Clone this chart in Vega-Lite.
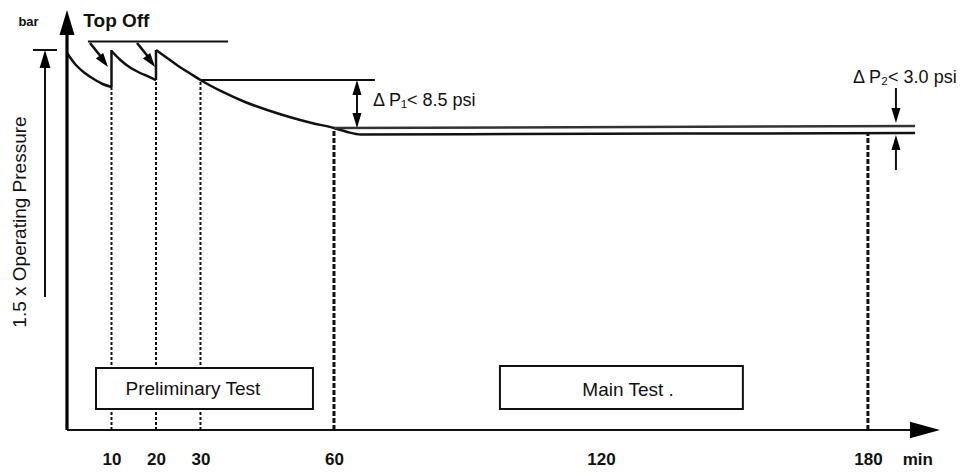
{
  "$schema": "https://vega.github.io/schema/vega-lite/v6.json",
  "width": 873,
  "height": 420,
  "autosize": {"type": "none"},
  "padding": {"left": 67, "top": 10, "right": 24, "bottom": 46},
  "background": "white",
  "config": {"view": {"stroke": null}, "font": "Liberation Sans", "text": {"font": "Liberation Sans"}},
  "datasets": {
    "curve": [
      {"g": "A", "m": 0, "v": 89.76}, {"g": "A", "m": 2, "v": 86.9}, {"g": "A", "m": 4, "v": 85.0}, {"g": "A", "m": 6, "v": 83.57}, {"g": "A", "m": 8, "v": 82.38}, {"g": "A", "m": 10, "v": 81.67},
      {"g": "B", "m": 10, "v": 90.24}, {"g": "B", "m": 12, "v": 88.1}, {"g": "B", "m": 14, "v": 86.43}, {"g": "B", "m": 16, "v": 85.24}, {"g": "B", "m": 18, "v": 84.29}, {"g": "B", "m": 20, "v": 83.33},
      {"g": "C", "m": 20, "v": 90.48}, {"g": "C", "m": 22.5, "v": 88.57}, {"g": "C", "m": 25, "v": 86.67}, {"g": "C", "m": 27.5, "v": 85.0}, {"g": "C", "m": 30, "v": 83.33}, {"g": "C", "m": 35, "v": 80.48}, {"g": "C", "m": 40, "v": 78.1}, {"g": "C", "m": 45, "v": 76.19}, {"g": "C", "m": 50, "v": 74.52}, {"g": "C", "m": 55, "v": 73.1}, {"g": "C", "m": 60, "v": 71.9}, {"g": "C", "m": 63, "v": 70.95}, {"g": "C", "m": 66, "v": 70.36}, {"g": "C", "m": 100, "v": 70.45}, {"g": "C", "m": 150, "v": 70.6}, {"g": "C", "m": 190.6, "v": 70.71}
    ],
    "rules": [
      {"k": "axisY", "m": 0, "v": 0, "m2": 0, "v2": 95},
      {"k": "solid", "m": 0, "v": 0, "m2": 190, "v2": 0},
      {"k": "solid", "m": 4.7, "v": 92.5, "m2": 36.2, "v2": 92.5},
      {"k": "solid", "m": 29.9, "v": 83.33, "m2": 69.2, "v2": 83.33},
      {"k": "solid", "m": -7.64, "v": 90.48, "m2": -2.25, "v2": 90.48},
      {"k": "solid", "m": -4.94, "v": 31.67, "m2": -4.94, "v2": 87},
      {"k": "solid", "m": 65.17, "v": 72.5, "m2": 65.17, "v2": 82.5},
      {"k": "solid", "m": 186.3, "v": 81.43, "m2": 186.3, "v2": 75},
      {"k": "solid", "m": 186.3, "v": 61.9, "m2": 186.3, "v2": 68},
      {"k": "tshaft", "m": 5.17, "v": 92.14, "m2": 8.0, "v2": 88.4},
      {"k": "tshaft", "m": 15.73, "v": 92.14, "m2": 18.6, "v2": 88.4},
      {"k": "jump", "m": 10, "v": 81.67, "m2": 10, "v2": 90.48},
      {"k": "jump", "m": 20, "v": 83.33, "m2": 20, "v2": 90.48},
      {"k": "grey", "m": 60, "v": 71.9, "m2": 190.6, "v2": 72.38},
      {"k": "dash", "m": 10, "v": 0, "m2": 10, "v2": 81.67},
      {"k": "dash", "m": 20, "v": 0, "m2": 20, "v2": 83.33},
      {"k": "dash", "m": 30, "v": 0, "m2": 30, "v2": 83.33},
      {"k": "dashT", "m": 60, "v": 0, "m2": 60, "v2": 71.67},
      {"k": "dashT", "m": 180, "v": 0, "m2": 180, "v2": 70.6}
    ],
    "boxes": [
      {"name": "Preliminary Test", "m": 6.52, "m2": 55.28, "v": 14.76, "v2": 5.0},
      {"name": "Main Test", "m": 97.3, "m2": 151.9, "v": 15.24, "v2": 5.0}
    ],
    "heads": [
      {"k": "upL", "m": 0, "v": 100},
      {"k": "right", "m": 196.2, "v": 0},
      {"k": "upM", "m": -4.94, "v": 90.48},
      {"k": "up", "m": 65.17, "v": 83.33},
      {"k": "up", "m": 186.3, "v": 70.24},
      {"k": "down", "m": 65.17, "v": 71.9},
      {"k": "down", "m": 186.3, "v": 73.1},
      {"k": "diag", "m": 9.21, "v": 86.43},
      {"k": "diag", "m": 19.78, "v": 86.43}
    ],
    "texts": [
      {"k": "bar", "t": "bar", "m": -8.65, "v": 97.14},
      {"k": "top", "t": "Top Off", "m": 11.1, "v": 97.38},
      {"k": "rot", "t": "1.5 x Operating Pressure", "m": -10.56, "v": 49.52},
      {"k": "dp1", "t": "Δ P₁< 8.5 psi", "m": 68.76, "v": 78.33},
      {"k": "dp2", "t": "Δ P₂< 3.0 psi", "m": 188.3, "v": 83.8},
      {"k": "box", "t": "Preliminary Test", "m": 28.3, "v": 9.76},
      {"k": "box", "t": "Main Test  .", "m": 126.1, "v": 9.64},
      {"k": "min", "t": "min", "m": 191.2, "v": -7.14}
    ]
  },
  "encoding": {
    "x": {
      "field": "m", "type": "quantitative",
      "scale": {"domain": [0, 196.2], "nice": false, "zero": false},
      "axis": {"values": [10, 20, 30, 60, 120, 180], "domain": false, "ticks": false, "tickSize": 0, "grid": false, "title": null, "labelFontSize": 17, "labelFontWeight": "bold", "labelColor": "#111", "labelPadding": 29, "labelBaseline": "middle", "labelDx": 2, "labelFlush": false, "labelOverlap": false}
    },
    "y": {"field": "v", "type": "quantitative", "scale": {"domain": [0, 100], "nice": false, "zero": false}, "axis": null}
  },
  "layer": [
    {
      "data": {"name": "rules"},
      "transform": [{"filter": "datum.k === 'dash'"}],
      "mark": {"type": "rule", "color": "#111", "strokeWidth": 2, "strokeDash": [3, 2]},
      "encoding": {"x2": {"field": "m2"}, "y2": {"field": "v2"}}
    },
    {
      "data": {"name": "rules"},
      "transform": [{"filter": "datum.k === 'dashT'"}],
      "mark": {"type": "rule", "color": "#111", "strokeWidth": 3, "strokeDash": [5, 2]},
      "encoding": {"x2": {"field": "m2"}, "y2": {"field": "v2"}}
    },
    {
      "data": {"name": "boxes"},
      "mark": {"type": "rect", "fill": "white", "stroke": "#111", "strokeWidth": 2},
      "encoding": {"x2": {"field": "m2"}, "y2": {"field": "v2"}}
    },
    {
      "data": {"name": "curve"},
      "mark": {"type": "line", "color": "#111", "strokeWidth": 2.5, "interpolate": "monotone"},
      "encoding": {"detail": {"field": "g"}}
    },
    {
      "data": {"name": "rules"},
      "transform": [{"filter": "datum.k === 'solid'"}],
      "mark": {"type": "rule", "color": "#111", "strokeWidth": 2},
      "encoding": {"x2": {"field": "m2"}, "y2": {"field": "v2"}}
    },
    {
      "data": {"name": "rules"},
      "transform": [{"filter": "datum.k === 'tshaft'"}],
      "mark": {"type": "rule", "color": "#111", "strokeWidth": 2.6},
      "encoding": {"x2": {"field": "m2"}, "y2": {"field": "v2"}}
    },
    {
      "data": {"name": "rules"},
      "transform": [{"filter": "datum.k === 'jump'"}],
      "mark": {"type": "rule", "color": "#111", "strokeWidth": 2.5},
      "encoding": {"x2": {"field": "m2"}, "y2": {"field": "v2"}}
    },
    {
      "data": {"name": "rules"},
      "transform": [{"filter": "datum.k === 'grey'"}],
      "mark": {"type": "rule", "color": "#333", "strokeWidth": 2.5},
      "encoding": {"x2": {"field": "m2"}, "y2": {"field": "v2"}}
    },
    {
      "data": {"name": "rules"},
      "transform": [{"filter": "datum.k === 'axisY'"}],
      "mark": {"type": "rule", "color": "#000", "strokeWidth": 3.2},
      "encoding": {"x2": {"field": "m2"}, "y2": {"field": "v2"}}
    },
    {
      "data": {"name": "heads"},
      "transform": [{"filter": "datum.k === 'upL'"}],
      "mark": {"type": "point", "shape": "M0,0L0.6,2L-0.6,2Z", "filled": true, "opacity": 1, "color": "#000", "size": 625, "angle": 0}
    },
    {
      "data": {"name": "heads"},
      "transform": [{"filter": "datum.k === 'right'"}],
      "mark": {"type": "point", "shape": "M0,0L0.55,2L-0.55,2Z", "filled": true, "opacity": 1, "color": "#000", "size": 900, "angle": 90}
    },
    {
      "data": {"name": "heads"},
      "transform": [{"filter": "datum.k === 'upM'"}],
      "mark": {"type": "point", "shape": "M0,0L0.6,2L-0.6,2Z", "filled": true, "opacity": 1, "color": "#000", "size": 324, "angle": 0}
    },
    {
      "data": {"name": "heads"},
      "transform": [{"filter": "datum.k === 'up'"}],
      "mark": {"type": "point", "shape": "M0,0L0.6,2L-0.6,2Z", "filled": true, "opacity": 1, "color": "#000", "size": 225, "angle": 0}
    },
    {
      "data": {"name": "heads"},
      "transform": [{"filter": "datum.k === 'down'"}],
      "mark": {"type": "point", "shape": "M0,0L0.6,2L-0.6,2Z", "filled": true, "opacity": 1, "color": "#000", "size": 225, "angle": 180}
    },
    {
      "data": {"name": "heads"},
      "transform": [{"filter": "datum.k === 'diag'"}],
      "mark": {"type": "point", "shape": "M0,0L0.65,2L-0.65,2Z", "filled": true, "opacity": 1, "color": "#000", "size": 196, "angle": 143}
    },
    {
      "data": {"name": "texts"},
      "transform": [{"filter": "datum.k === 'bar'"}],
      "mark": {"type": "text", "fontSize": 13, "fontWeight": "bold", "color": "#111", "align": "center", "baseline": "middle"},
      "encoding": {"text": {"field": "t"}}
    },
    {
      "data": {"name": "texts"},
      "transform": [{"filter": "datum.k === 'top'"}],
      "mark": {"type": "text", "fontSize": 19, "fontWeight": "bold", "color": "#111", "align": "center", "baseline": "middle"},
      "encoding": {"text": {"field": "t"}}
    },
    {
      "data": {"name": "texts"},
      "transform": [{"filter": "datum.k === 'rot'"}],
      "mark": {"type": "text", "fontSize": 19, "color": "#111", "align": "center", "baseline": "middle", "angle": 270},
      "encoding": {"text": {"field": "t"}}
    },
    {
      "data": {"name": "texts"},
      "transform": [{"filter": "datum.k === 'dp1'"}],
      "mark": {"type": "text", "fontSize": 18, "color": "#111", "align": "left", "baseline": "middle"},
      "encoding": {"text": {"field": "t"}}
    },
    {
      "data": {"name": "texts"},
      "transform": [{"filter": "datum.k === 'dp2'"}],
      "mark": {"type": "text", "fontSize": 18, "color": "#111", "align": "center", "baseline": "middle"},
      "encoding": {"text": {"field": "t"}}
    },
    {
      "data": {"name": "texts"},
      "transform": [{"filter": "datum.k === 'box'"}],
      "mark": {"type": "text", "fontSize": 19, "color": "#111", "align": "center", "baseline": "middle"},
      "encoding": {"text": {"field": "t"}}
    },
    {
      "data": {"name": "texts"},
      "transform": [{"filter": "datum.k === 'min'"}],
      "mark": {"type": "text", "fontSize": 17, "fontWeight": "bold", "color": "#111", "align": "center", "baseline": "middle"},
      "encoding": {"text": {"field": "t"}}
    }
  ]
}
